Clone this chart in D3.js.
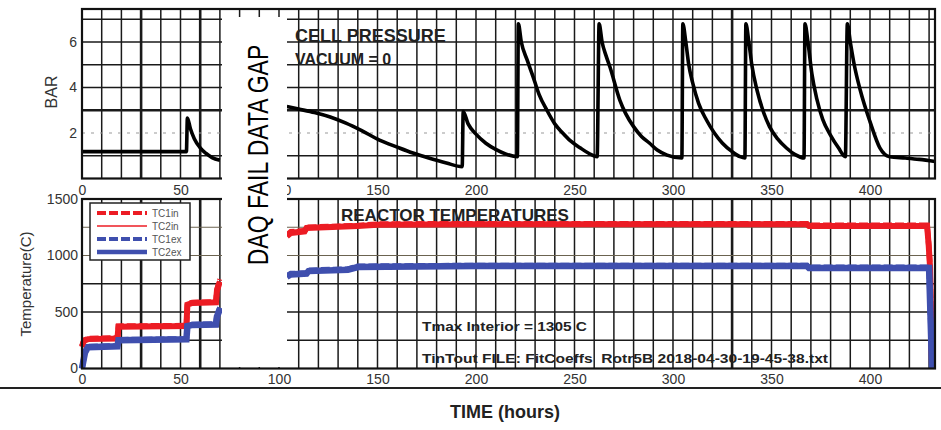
<!DOCTYPE html>
<html>
<head>
<meta charset="utf-8">
<script src="https://cdn.jsdelivr.net/npm/d3@7"></script>
<style>
  html, body { margin: 0; padding: 0; background: #fff; }
  svg { display: block; }
  text { font-family: Arial, "Liberation Sans", sans-serif; }
</style>
</head>
<body>
<div id="chart"></div>
<script>
// ---------------- DATA ----------------
const timeTicks = [0, 50, 100, 150, 200, 250, 300, 350, 400];
const barTicks = [2, 4, 6];
const tempTicks = [0, 500, 1000, 1500];

// Cell pressure (BAR) vs time (hours); null marks the DAQ data gap
const pressureHours = [0, 53, 53.5, 55, 57, 60, 63, 66, 70, null,
  104, 110, 118, 126, 134, 142, 151, 160, 168, 176, 185, 193,
  193.5, 196, 200, 205, 210, 215, 221,
  221.5, 223, 226, 229, 232, 236, 240, 244, 248, 253, 257, 261.5,
  262.5, 264, 266, 268, 273, 276, 280, 284, 288, 292, 297, 304.5,
  305, 306.5, 308, 310, 313, 317, 321, 325, 330, 334, 336.5,
  337, 338.5, 340, 342.6, 346, 349, 353, 357.6, 362, 366.5,
  367, 368.5, 370.5, 373, 376, 380, 384, 387.5,
  388.5, 390, 392, 395, 400, 405, 410, 418, 425, 433];
const pressureBar = [1.18, 1.18, 2.66, 2.2, 1.75, 1.35, 1.1, 0.92, 0.8, null,
  3.16, 3.05, 2.9, 2.7, 2.43, 2.1, 1.69, 1.38, 1.12, 0.9, 0.68, 0.52,
  2.94, 2.4, 1.95, 1.55, 1.28, 1.08, 0.96,
  6.8, 6.0, 5.2, 4.47, 3.7, 3.0, 2.4, 2.0, 1.65, 1.34, 1.12, 0.96,
  6.8, 6.0, 5.4, 4.9, 3.45, 2.85, 2.28, 1.85, 1.56, 1.25, 1.03, 0.9,
  6.8, 6.0, 5.0, 4.2, 3.3, 2.57, 2.0, 1.56, 1.18, 0.96, 0.9,
  6.8, 6.0, 5.0, 3.9, 2.9, 2.28, 1.75, 1.34, 1.05, 0.9,
  6.8, 6.0, 4.6, 3.5, 2.6, 1.9, 1.35, 0.96,
  6.8, 6.0, 5.0, 3.9, 2.5, 1.35, 0.96, 0.9, 0.84, 0.75];

// Reactor temperatures (C)
const redHours = [0, 1, 3, 18, 18.5, 53, 53.5, 56, 68, 68.5, 70, null,
  104, 106, 113, 114, 140, 150, 200, 368, 369, 429, 429.8, 430.5, 431.5];
const tc1in = [200, 250, 265, 270, 375, 380, 570, 585, 590, 700, 790, null,
  1180, 1210, 1220, 1250, 1265, 1278, 1282, 1282, 1268, 1268, 1100, 900, 0];
const tc2in = [190, 245, 260, 266, 370, 376, 565, 580, 586, 690, 770, null,
  1170, 1200, 1214, 1244, 1260, 1272, 1276, 1276, 1262, 1262, 1090, 890, 0];
const blueHours = [0, 1.5, 3, 18, 18.5, 53, 53.5, 56, 68, 68.5, 70, null,
  104, 106, 114, 115, 135, 140, 200, 368, 369, 430, 431.5];
const tc1ex = [0, 150, 195, 200, 255, 262, 380, 390, 395, 470, 540, null,
  820, 840, 845, 870, 880, 905, 912, 912, 895, 895, 0];
const tc2ex = [0, 140, 188, 196, 250, 258, 375, 386, 390, 460, 525, null,
  812, 832, 840, 862, 874, 898, 906, 906, 890, 890, 0];

const legendNames = ["TC1in", "TC2in", "TC1ex", "TC2ex"];

// ---------------- LAYOUT ----------------
const W = 941, H = 430;
const svg = d3.select("#chart").append("svg").attr("width", W).attr("height", H);

const x = d3.scaleLinear().domain([0, 433]).range([82, 935]);
const yP = d3.scaleLinear().domain([0, 7.45]).range([178.5, 9]);
const yT = d3.scaleLinear().domain([0, 1500]).range([368.5, 199]);

const vGrid = d3.range(10, 431, 10);
const thickV = [30, 60, 330];

function drawVGrid(g, y0, y1) {
  g.selectAll("line.v").data(vGrid).join("line")
    .attr("x1", d => x(d)).attr("x2", d => x(d))
    .attr("y1", y0).attr("y2", y1)
    .attr("stroke", "#1a1a1a")
    .attr("stroke-width", d => thickV.includes(d) ? 2.6 : 1.5);
}

// ---- Top panel grid ----
const gTop = svg.append("g");
drawVGrid(gTop, yP.range()[1], yP.range()[0]);
gTop.selectAll("line.h").data([1, 3, 4, 5, 6, 7]).join("line")
  .attr("x1", x(0)).attr("x2", x(433))
  .attr("y1", d => yP(d)).attr("y2", d => yP(d))
  .attr("stroke", "#1a1a1a")
  .attr("stroke-width", d => d === 3 ? 2.6 : 1.5);
gTop.append("line")
  .attr("x1", x(0)).attr("x2", x(433))
  .attr("y1", yP(2)).attr("y2", yP(2))
  .attr("stroke", "#999").attr("stroke-width", 1.2)
  .attr("stroke-dasharray", "3,6");

// ---- Bottom panel grid ----
const gBot = svg.append("g");
drawVGrid(gBot, yT.range()[1], yT.range()[0]);
gBot.selectAll("line.h").data([250, 500, 750, 1000, 1250]).join("line")
  .attr("x1", x(0)).attr("x2", x(433))
  .attr("y1", d => yT(d)).attr("y2", d => yT(d))
  .attr("stroke", d => d >= 1000 ? "#6b6350" : "#1a1a1a")
  .attr("stroke-width", d => d >= 1000 ? 1.1 : 1.6);

// ---- Pressure line ----
const pData = pressureHours.map((t, i) => [t, pressureBar[i]]);
const lineP = d3.line()
  .defined(d => d[0] !== null && d[1] !== null)
  .x(d => x(d[0])).y(d => yP(d[1]))
  .curve(d3.curveMonotoneX);
svg.append("path").datum(pData)
  .attr("d", lineP)
  .attr("fill", "none").attr("stroke", "#000")
  .attr("stroke-width", 3.6).attr("stroke-linejoin", "round");

// ---- Temperature lines ----
const lineT = d3.line()
  .defined(d => d[0] !== null && d[1] !== null)
  .x(d => x(d[0])).y(d => yT(d[1]));
const RED = "#ec1c24", BLUE = "#3f4fae";
const series = [
  {hours: redHours, vals: tc2in, color: RED, w: 6, dash: null},
  {hours: redHours, vals: tc1in, color: RED, w: 5.5, dash: "9,3"},
  {hours: blueHours, vals: tc2ex, color: BLUE, w: 6.5, dash: null},
  {hours: blueHours, vals: tc1ex, color: BLUE, w: 5.5, dash: "9,3"}
];
series.forEach(s => {
  svg.append("path").datum(s.hours.map((t, i) => [t, s.vals[i]]))
    .attr("d", lineT)
    .attr("fill", "none").attr("stroke", s.color)
    .attr("stroke-width", s.w)
    .attr("stroke-dasharray", s.dash);
});

// ---- Panel borders ----
[[yP.range()[1], yP.range()[0]], [yT.range()[1], yT.range()[0]]].forEach(([t, b]) => {
  svg.append("rect")
    .attr("x", x(0)).attr("y", t)
    .attr("width", x(433) - x(0)).attr("height", b - t)
    .attr("fill", "none").attr("stroke", "#111").attr("stroke-width", 2.2);
});

// ---- Axes tick labels ----
const fmt = d3.format("d");
const axTopX = d3.axisBottom(x).tickValues(timeTicks).tickFormat(fmt).tickSize(0).tickPadding(7);
svg.append("g").attr("transform", `translate(0,${yP.range()[0]})`).call(axTopX)
  .call(g => g.select(".domain").remove());
const axBotX = d3.axisBottom(x).tickValues(timeTicks).tickFormat(fmt).tickSize(0).tickPadding(6);
svg.append("g").attr("transform", `translate(0,${yT.range()[0]})`).call(axBotX)
  .call(g => g.select(".domain").remove());
const axP = d3.axisLeft(yP).tickValues(barTicks).tickFormat(fmt).tickSize(0).tickPadding(5);
svg.append("g").attr("transform", `translate(${x(0)},0)`).call(axP)
  .call(g => g.select(".domain").remove());
const axT = d3.axisLeft(yT).tickValues(tempTicks).tickFormat(fmt).tickSize(0).tickPadding(4);
svg.append("g").attr("transform", `translate(${x(0)},0)`).call(axT)
  .call(g => g.select(".domain").remove());
svg.selectAll(".tick text")
  .attr("font-size", 14).attr("fill", "#333")
  .attr("font-family", "Arial, 'Liberation Sans', sans-serif");

// ---- Data gap box ----
svg.append("rect")
  .attr("x", 222).attr("y", 17).attr("width", 65).attr("height", 350)
  .attr("fill", "#fff");
svg.append("text")
  .attr("transform", "translate(268,155) rotate(-90) scale(1,1.27)")
  .attr("text-anchor", "middle")
  .attr("font-size", 23)
  .attr("fill", "#000")
  .text("DAQ FAIL DATA GAP");

// separator line under bottom labels
svg.append("line").attr("x1", 0).attr("x2", W).attr("y1", 388).attr("y2", 388)
  .attr("stroke", "#222").attr("stroke-width", 2);

// ---- Legend ----
const lg = svg.append("g");
lg.append("rect").attr("x", 90).attr("y", 203).attr("width", 100).attr("height", 57)
  .attr("fill", "#fff").attr("stroke", "#222").attr("stroke-width", 1.5);
const legStyles = [
  {color: RED, w: 4, dash: "9,3"},
  {color: RED, w: 1.6, dash: null},
  {color: BLUE, w: 4, dash: "9,3"},
  {color: BLUE, w: 4.5, dash: null}
];
legendNames.forEach((n, i) => {
  const yy = 213 + i * 13;
  lg.append("line").attr("x1", 97).attr("x2", 147).attr("y1", yy).attr("y2", yy)
    .attr("stroke", legStyles[i].color).attr("stroke-width", legStyles[i].w)
    .attr("stroke-dasharray", legStyles[i].dash);
  lg.append("text").attr("x", 152).attr("y", yy + 3.5)
    .attr("font-size", 10).attr("fill", "#555").text(n);
});

// ---- Annotations ----
svg.append("text").attr("x", 295).attr("y", 42)
  .attr("font-size", 18).attr("font-weight", "bold").attr("fill", "#222")
  .text("CELL PRESSURE");
svg.append("text").attr("x", 295).attr("y", 65)
  .attr("font-size", 16).attr("font-weight", "bold").attr("fill", "#222")
  .text("VACUUM = 0");
svg.append("text").attr("x", 341).attr("y", 221)
  .attr("font-size", 17).attr("font-weight", "bold").attr("fill", "#222")
  .text("REACTOR TEMPERATURES");
svg.append("text").attr("x", 422).attr("y", 331)
  .attr("font-size", 13.5).attr("font-weight", "bold").attr("fill", "#222")
  .attr("textLength", 165).attr("lengthAdjust", "spacingAndGlyphs")
  .text("Tmax Interior = 1305 C");
svg.append("text").attr("x", 422).attr("y", 363)
  .attr("font-size", 13).attr("font-weight", "bold").attr("fill", "#222")
  .attr("textLength", 406).attr("lengthAdjust", "spacingAndGlyphs")
  .text("TinTout FILE: FitCoeffs\u00a0 Rotr5B 2018-04-30-19-45-38.txt");

// Axis titles
svg.append("text").attr("transform", "translate(57,92) rotate(-90)")
  .attr("text-anchor", "middle").attr("font-size", 16).attr("fill", "#333")
  .text("BAR");
svg.append("text").attr("transform", "translate(31,284) rotate(-90)")
  .attr("text-anchor", "middle").attr("font-size", 15).attr("fill", "#333")
  .text("Temperature(C)");
svg.append("text").attr("x", 505).attr("y", 418)
  .attr("text-anchor", "middle").attr("font-size", 18).attr("font-weight", "bold")
  .attr("font-family", "'Open Sans', sans-serif").attr("fill", "#222")
  .text("TIME (hours)");
</script>
</body>
</html>
